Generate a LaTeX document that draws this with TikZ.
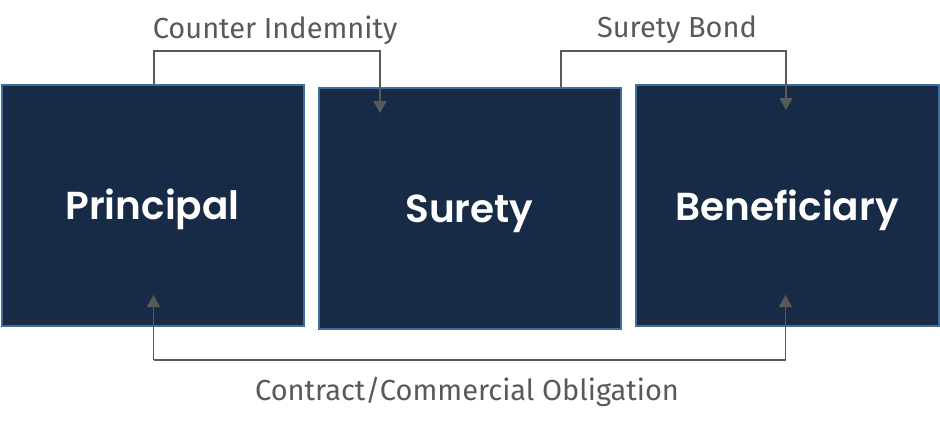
\documentclass[tikz,border=0pt]{standalone}
\usepackage{fontspec}
\setmainfont{Poppins}
\newfontfamily\lblfont{Fira Sans}
\newfontfamily\boxfont{Poppins SemiBold}
\definecolor{boxfill}{HTML}{172B47}
\definecolor{boxedge}{HTML}{3F6E9C}
\definecolor{linegray}{HTML}{595959}
\usetikzlibrary{arrows.meta}
\tikzset{
  party/.style={draw=boxedge, line width=2pt, fill=boxfill, inner sep=0pt},
  partytext/.style={text=white, font=\boxfont\fontsize{39}{44}\selectfont, inner sep=0pt, anchor=base},
  link/.style={draw=linegray, line width=1.3pt, -{Triangle[width=13pt,length=12pt]}},
  lbl/.style={text=linegray, font=\lblfont\fontsize{29}{34}\selectfont, inner sep=0pt, anchor=base}
}
\begin{document}
\begin{tikzpicture}[x=1pt,y=-1pt]
\useasboundingbox (0,0) rectangle (940,426);
\node[party, minimum width=302pt, minimum height=241pt] (pri) at (152.5,205) {};
\node[party, minimum width=302pt, minimum height=241pt] (sur) at (469.5,208) {};
\node[party, minimum width=303pt, minimum height=241pt] (ben) at (787,205) {};
\node[partytext] (tp) at (152.5,219) {Principal};
\node[partytext] (ts) at (469.5,222) {Surety};
\node[partytext] (tb) at (787,220) {Beneficiary};
\coordinate (c1a) at (154,84);
\coordinate (c1b) at (380,113);
\coordinate (c2a) at (561,87);
\coordinate (c2b) at (786,110);
\coordinate (c3a) at (153.5,295);
\coordinate (c3b) at (785.5,295);
\draw[link] (c1a) -- (154,51) -- (380,51) -- (c1b);
\draw[link] (c2a) -- (561,51) -- (786,51) -- (c2b);
\draw[link] (153.5,360) -- (c3a);
\draw[link] (785.5,360) -- (c3b);
\draw[draw=linegray, line width=1.3pt] (153.5,360) -- (785.5,360);
\node[lbl] (l1) at (275,38) {Counter Indemnity};
\node[lbl] (l2) at (677,37) {Surety Bond};
\node[lbl] (l3) at (467,400) {Contract/Commercial Obligation};
\end{tikzpicture}
\end{document}
